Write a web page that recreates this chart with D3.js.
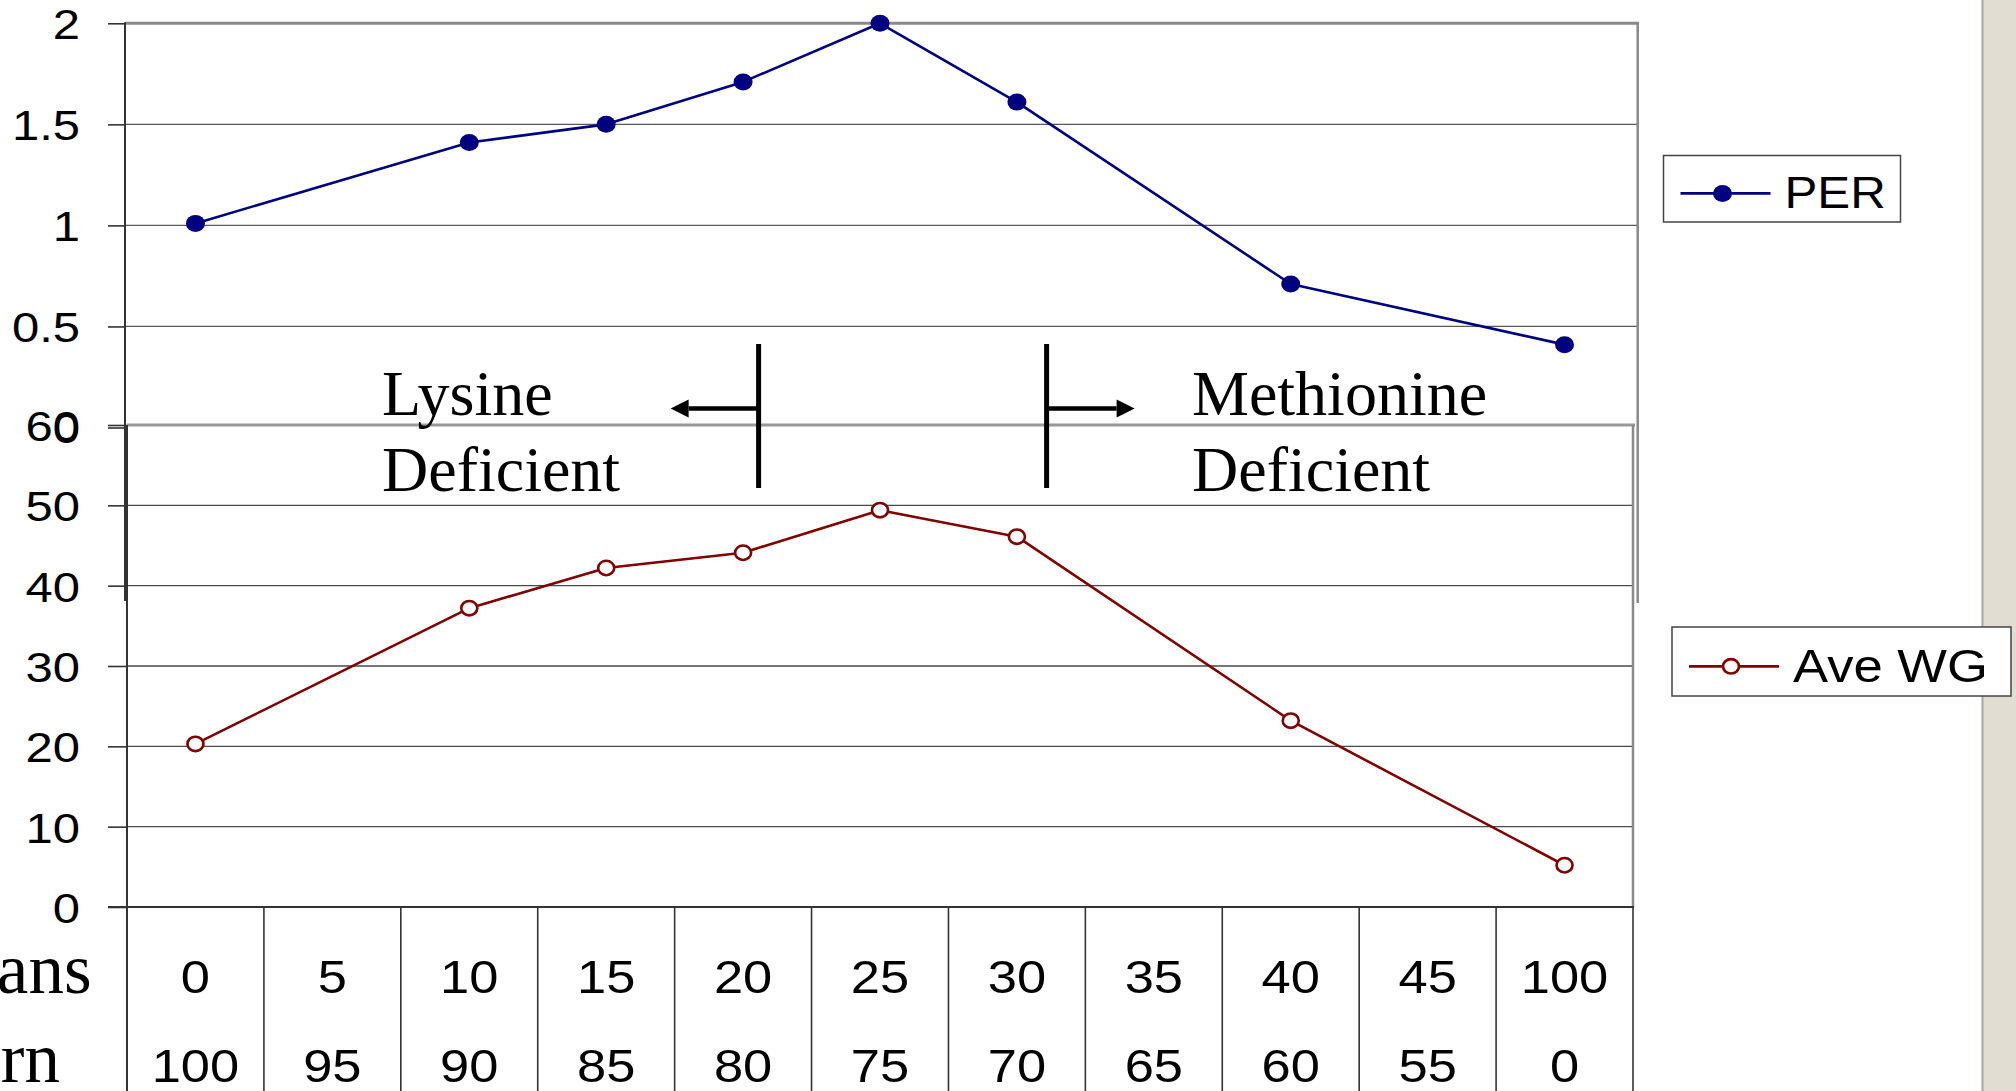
<!DOCTYPE html>
<html>
<head>
<meta charset="utf-8">
<script src="https://cdn.jsdelivr.net/npm/d3@7"></script>
<style>
  html, body { margin: 0; padding: 0; background: #fff; overflow: hidden; }
  svg { display: block; }
</style>
</head>
<body>
<svg id="chart" width="2016" height="1091"></svg>
<script>
// Diet composition: share of beans and corn (%), one column per diet
const beans = ["0", "5", "10", "15", "20", "25", "30", "35", "40", "45", "100"];
const corn  = ["100", "95", "90", "85", "80", "75", "70", "65", "60", "55", "0"];
const rowLabels = ["Beans", "Corn"];

// Protein efficiency ratio and average weight gain (null = not measured)
const per   = [1.01, null, 1.41, 1.50, 1.71, 2.00, 1.61, null, 0.71, null, 0.41];
const aveWG = [20.3, null, 37.2, 42.2, 44.1, 49.4, 46.1, null, 23.2, null, 5.2];

const perTicks = [0, 0.5, 1, 1.5, 2];
const wgTicks  = [0, 10, 20, 30, 40, 50, 60];
const seriesNames = ["PER", "Ave WG"];
const notes = [["Lysine", "Deficient"], ["Methionine", "Deficient"]];

const W = 2016, H = 1091;
const SANS = "'Liberation Sans', Arial, Helvetica, sans-serif";
const SERIF = "'Liberation Serif', 'Times New Roman', serif";
const NAVY = "#000080", MAROON = "#800000";

const svg = d3.select("#chart");
svg.append("rect").attr("width", W).attr("height", H).attr("fill", "#fff");

// shared category axis: one band per diet
const x = d3.scaleBand().domain(beans).range([127, 1633]).padding(0);
const cx = i => x(beans[i]) + x.bandwidth() / 2;

const yTop = d3.scaleLinear().domain([0, 2]).range([427.5, 23.3]);
const yBot = d3.scaleLinear().domain([0, 60]).range([907, 425]);

// window strip at the right edge
svg.append("rect").attr("x", 1982).attr("y", 0).attr("width", W - 1982).attr("height", H).attr("fill", "#e2ddd2");
svg.append("line").attr("x1", 1982.5).attr("x2", 1982.5).attr("y1", 0).attr("y2", H)
  .attr("stroke", "#a9a6a0").attr("stroke-width", 2);

function hline(g, x1, x2, y, color, w) {
  g.append("line").attr("x1", x1).attr("x2", x2).attr("y1", y).attr("y2", y)
    .attr("stroke", color).attr("stroke-width", w);
}
function vline(g, xx, y1, y2, color, w) {
  g.append("line").attr("x1", xx).attr("x2", xx).attr("y1", y1).attr("y2", y2)
    .attr("stroke", color).attr("stroke-width", w);
}

// ---------- upper panel: PER ----------
const gTop = svg.append("g");
perTicks.filter(t => t > 0 && t < 2).forEach(t => hline(gTop, 125, 1637, yTop(t), "#5a5a5a", 1.3));
hline(gTop, 125, 1639, yTop(2), "#8a8a8a", 3);
vline(gTop, 1637.7, yTop(2) - 1, 603, "#8a8a8a", 2.5);
vline(gTop, 125, yTop(2) - 1, 601, "#333", 2);

// ---------- lower panel: Ave WG ----------
const gBot = svg.append("g");
gBot.append("rect").attr("x", 127).attr("y", yBot(60)).attr("width", 1633 - 127)
  .attr("height", yBot(0) - yBot(60)).attr("fill", "#fff");
wgTicks.filter(t => t > 0 && t < 60).forEach(t => hline(gBot, 127, 1633, yBot(t), "#4a4a4a", 1.3));
hline(gBot, 127, 1635, yBot(60), "#9a9a9a", 3);
vline(gBot, 1633, yBot(60), yBot(0), "#8a8a8a", 2.5);

// data table under the lower panel
const bw = x.bandwidth();
d3.range(beans.length + 1).forEach(i => vline(gBot, 127 + i * bw, yBot(0), H, "#333", 1.6));
vline(gBot, 127, yBot(60), H, "#333", 2);
hline(gBot, 108, 1634, yBot(0), "#333", 2.2);

// y axes (ticks + labels)
function styleAxis(g, stretch, offset) {
  g.select(".domain").remove();
  g.selectAll(".tick line").attr("stroke", "#333").attr("stroke-width", 1.6);
  g.selectAll(".tick text")
    .attr("fill", "#000")
    .style("font-family", SANS)
    .style("font-size", "43px")
    .attr("x", -offset / stretch)
    .attr("dy", "0.36em")
    .attr("transform", `scale(${stretch},1)`);
}
const axTop = svg.append("g").attr("transform", "translate(125,0)")
  .call(d3.axisLeft(yTop).tickValues(perTicks).tickSize(17).tickFormat(d => String(d)));
styleAxis(axTop, 1.14, 45);
const axBot = svg.append("g").attr("transform", "translate(127,0)")
  .call(d3.axisLeft(yBot).tickValues(wgTicks).tickSize(19).tickFormat(d => String(d)));
styleAxis(axBot, 1.14, 47);

// table values
const TSTRETCH = 1.14;
[[beans, 993], [corn, 1082]].forEach(([row, base]) => {
  svg.append("g").selectAll("text").data(row).join("text")
    .attr("transform", (d, i) => `translate(${cx(i)},${base}) scale(${TSTRETCH},1)`)
    .attr("text-anchor", "middle")
    .style("font-family", SANS).style("font-size", "46px")
    .attr("fill", "#000")
    .text(d => d);
});
// row headers (run off the left edge)
[[rowLabels[0], 993], [rowLabels[1], 1082]].forEach(([t, base]) => {
  svg.append("text").attr("x", -82).attr("y", base)
    .style("font-family", SERIF).style("font-size", "71px")
    .attr("fill", "#000").text(t);
});

// ---------- series ----------
function drawSeries(values, yScale, color, filled) {
  const pts = values.map((v, i) => ({ i, v })).filter(d => d.v !== null);
  const line = d3.line().x(d => cx(d.i)).y(d => yScale(d.v));
  svg.append("path").datum(pts).attr("d", line)
    .attr("fill", "none").attr("stroke", color).attr("stroke-width", 2.6)
    .attr("stroke-linejoin", "round");
  svg.append("g").selectAll("ellipse").data(pts).join("ellipse")
    .attr("cx", d => cx(d.i)).attr("cy", d => yScale(d.v))
    .attr("rx", filled ? 9.5 : 8).attr("ry", filled ? 8.5 : 7.2)
    .attr("fill", filled ? color : "#fff")
    .attr("stroke", color).attr("stroke-width", filled ? 0 : 2.6);
}
drawSeries(per, yTop, NAVY, true);
drawSeries(aveWG, yBot, MAROON, false);

// ---------- deficiency annotations ----------
const ann = svg.append("g");
notes.forEach((lines, k) => {
  const tx = k === 0 ? 382 : 1192;
  lines.forEach((t, j) => {
    ann.append("text").attr("x", tx).attr("y", 415 + j * 76)
      .style("font-family", SERIF).style("font-size", "64px")
      .attr("fill", "#000").text(t);
  });
});
function bracketArrow(bx, dir) {
  vline(ann, bx, 344, 488, "#000", 5);
  const tip = bx + dir * 88;
  const base = tip - dir * 18;
  hline(ann, bx, base, 408.5, "#000", 4.5);
  ann.append("path")
    .attr("d", `M${tip},408.5 L${base},399.5 L${base},417.5 Z`)
    .attr("fill", "#000");
}
bracketArrow(758.6, -1);
bracketArrow(1046.6, 1);

// ---------- legends ----------
function legend(bx, by, bw2, bh, name, color, filled, fontSize) {
  const g = svg.append("g");
  g.append("rect").attr("x", bx).attr("y", by).attr("width", bw2).attr("height", bh)
    .attr("fill", "#fff").attr("stroke", "#444").attr("stroke-width", 1.5);
  const ly = by + bh * 0.57;
  hline(g, bx + 17, bx + 107, ly, color, 2.6);
  g.append("ellipse").attr("cx", bx + 59).attr("cy", ly)
    .attr("rx", filled ? 9.5 : 8).attr("ry", filled ? 8.5 : 7.2)
    .attr("fill", filled ? color : "#fff")
    .attr("stroke", color).attr("stroke-width", filled ? 0 : 2.6);
  g.append("text")
    .attr("transform", `translate(${bx + 121},${ly + fontSize * 0.33}) scale(1.12,1)`)
    .style("font-family", SANS).style("font-size", fontSize + "px")
    .attr("fill", "#000").text(name);
}
legend(1663.5, 155.5, 237, 66.5, seriesNames[0], NAVY, true, 44);
legend(1672, 627, 339, 69, seriesNames[1], MAROON, false, 47);
</script>
</body>
</html>
